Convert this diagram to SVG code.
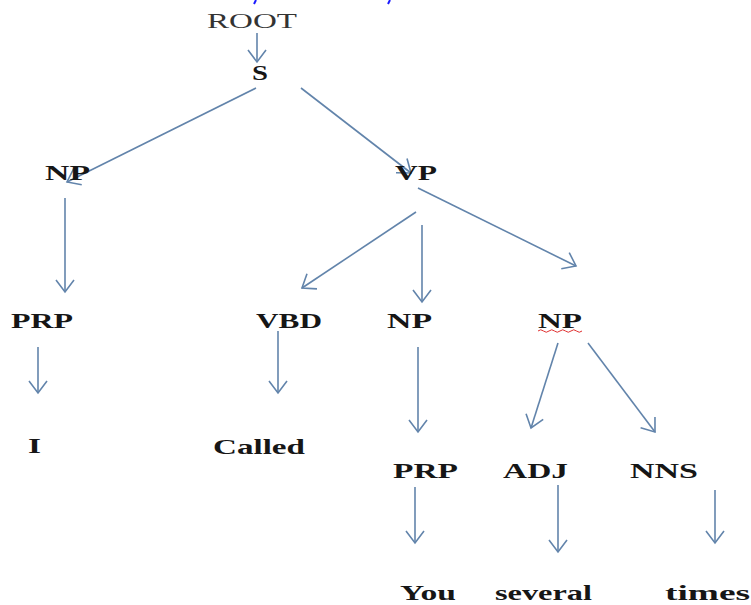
<svg xmlns="http://www.w3.org/2000/svg" width="751" height="605" viewBox="0 0 751 605">
  <style>
    .lbl { font-family: "Liberation Serif", "Times New Roman", serif; font-size: 22px; font-weight: bold; fill: #161616; }
    .reg { font-weight: normal; fill: #333333; }
    .edge { stroke: #6284ab; stroke-width: 1.6; fill: none; marker-end: url(#arr); }
  </style>
  <defs>
    <marker id="arr" viewBox="-14 -11 16 22" refX="0" refY="0" markerWidth="16" markerHeight="22" markerUnits="userSpaceOnUse" orient="auto">
      <path d="M-12,-9 L0,0 L-12,9" fill="none" stroke="#6284ab" stroke-width="1.6"/>
    </marker>
  </defs>
  <rect width="751" height="605" fill="#ffffff"/>

  <g id="cut-title-fragments" stroke="#1a1aff" stroke-width="2">
    <line x1="256" y1="0" x2="254" y2="4"/>
    <line x1="390" y1="0" x2="388" y2="4"/>
  </g>

  <g id="connectors">
    <line class="edge" x1="257" y1="33" x2="257" y2="62"/>
    <line class="edge" x1="256" y1="88" x2="67" y2="182"/>
    <line class="edge" x1="301" y1="88" x2="411" y2="173"/>
    <line class="edge" x1="65" y1="198" x2="65" y2="292"/>
    <line class="edge" x1="416" y1="212" x2="302" y2="288"/>
    <line class="edge" x1="422" y1="225" x2="422" y2="302"/>
    <line class="edge" x1="418" y1="188" x2="576" y2="266"/>
    <line class="edge" x1="38" y1="347" x2="38" y2="393"/>
    <line class="edge" x1="278" y1="331" x2="278" y2="393"/>
    <line class="edge" x1="418" y1="347" x2="418" y2="432"/>
    <line class="edge" x1="558" y1="343" x2="531" y2="428"/>
    <line class="edge" x1="588" y1="343" x2="655" y2="432"/>
    <line class="edge" x1="415" y1="487" x2="415" y2="543"/>
    <line class="edge" x1="558" y1="485" x2="558" y2="552"/>
    <line class="edge" x1="715" y1="490" x2="715" y2="543"/>
  </g>

  <g id="node-root"><text class="lbl reg" x="207" y="28" textLength="90" lengthAdjust="spacingAndGlyphs">ROOT</text></g>
  <g id="node-s"><text class="lbl" x="252" y="80" textLength="16" lengthAdjust="spacingAndGlyphs">S</text></g>
  <g id="node-np1"><text class="lbl" x="45" y="180" textLength="45" lengthAdjust="spacingAndGlyphs">NP</text></g>
  <g id="node-vp"><text class="lbl" x="395" y="180" textLength="42" lengthAdjust="spacingAndGlyphs">VP</text></g>
  <g id="node-prp1"><text class="lbl" x="11" y="328" textLength="62" lengthAdjust="spacingAndGlyphs">PRP</text></g>
  <g id="node-vbd"><text class="lbl" x="256" y="328" textLength="66" lengthAdjust="spacingAndGlyphs">VBD</text></g>
  <g id="node-np2"><text class="lbl" x="387" y="328" textLength="45" lengthAdjust="spacingAndGlyphs">NP</text></g>
  <g id="node-np3">
    <text class="lbl" x="538" y="328" textLength="44" lengthAdjust="spacingAndGlyphs">NP</text>
    <path d="M538,331 q2.75,-2.5 5.5,0 t5.5,0 t5.5,0 t5.5,0 t5.5,0 t5.5,0 t5.5,0 t5.5,0" fill="none" stroke="#e03030" stroke-width="1"/>
  </g>
  <g id="node-i"><text class="lbl" x="28" y="453" textLength="13" lengthAdjust="spacingAndGlyphs">I</text></g>
  <g id="node-called"><text class="lbl" x="213" y="454" textLength="92" lengthAdjust="spacingAndGlyphs">Called</text></g>
  <g id="node-prp2"><text class="lbl" x="393" y="478" textLength="65" lengthAdjust="spacingAndGlyphs">PRP</text></g>
  <g id="node-adj"><text class="lbl" x="503" y="478" textLength="65" lengthAdjust="spacingAndGlyphs">ADJ</text></g>
  <g id="node-nns"><text class="lbl" x="630" y="478" textLength="68" lengthAdjust="spacingAndGlyphs">NNS</text></g>
  <g id="node-you"><text class="lbl" x="400" y="600" textLength="56" lengthAdjust="spacingAndGlyphs">You</text></g>
  <g id="node-several"><text class="lbl" x="495" y="600" textLength="97" lengthAdjust="spacingAndGlyphs">several</text></g>
  <g id="node-times"><text class="lbl" x="665" y="600" textLength="85" lengthAdjust="spacingAndGlyphs">times</text></g>
</svg>
